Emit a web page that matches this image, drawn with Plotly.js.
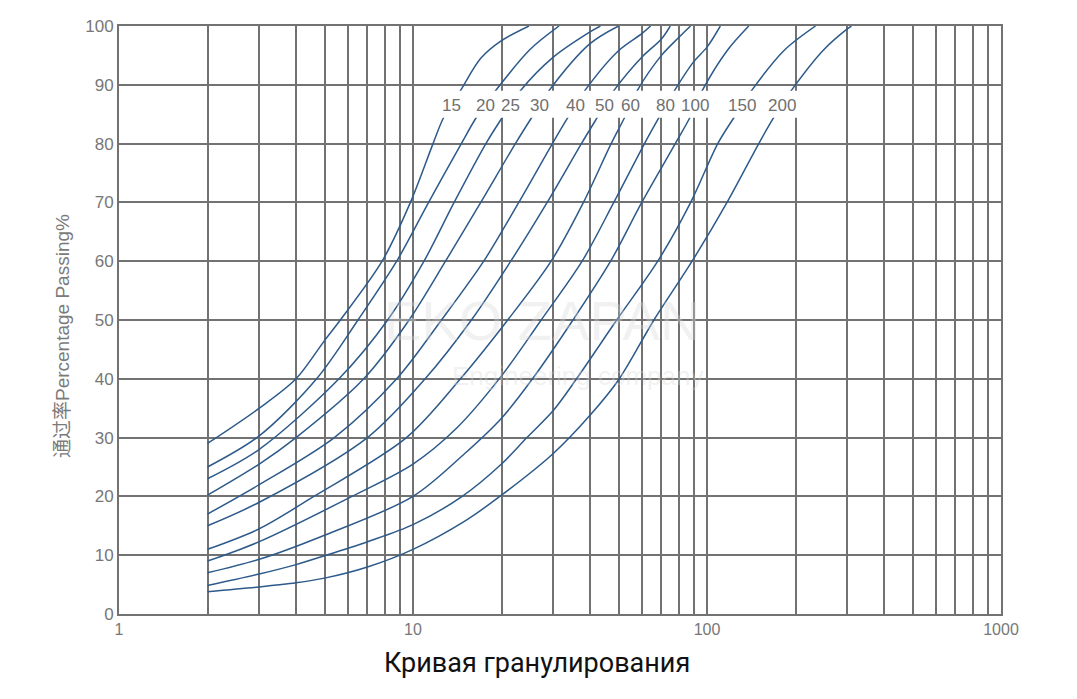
<!DOCTYPE html>
<html>
<head>
<meta charset="utf-8">
<script src="https://cdn.plot.ly/plotly-3.0.1.min.js"></script>
<style>html,body{margin:0;padding:0;background:#fff;}#chart{width:1077px;height:699px;}</style>
</head>
<body>
<div id="chart"></div>
<script>
// ---- data ----
const curveNames = ['15','20','25','30','40','50','60','80','100','150','200'];

const x15 = [2,3,4,5,5.66,7.85,9.8,11.7,12.7,14.5,17,20,24.8];
const y15 = [29,35,40,46.5,50,60,70,80,84.4,89,94.5,97.5,100];

const x20 = [2,3,4.7,6.5,8.8,11.3,14.6,16.4,19.1,25,31.4];
const y20 = [25,30.3,40,50,60,70,80,84.4,89,96,100];

const x25 = [2,3,5.6,8.2,10.9,13.8,17.7,20.1,23.2,30,40,43.4];
const y25 = [23,28,40,50,60,70,80,84.4,89,94.7,99,100];

const x30 = [2,3,4,6.8,9.7,12.9,17,22.3,25.3,29,40,50];
const y30 = [20.2,25.5,30,40,50,60,70,80,84.4,89,97,100];

const x40 = [2,3,5.4,8.8,12.5,17.4,22.9,29.8,33.6,38.4,50,60,64.3];
const y40 = [17,22,30,40,50,60,70,80,84.4,89,95.8,98.7,100];

const x50 = [2,3,7,11,15.8,21.5,28.6,37.4,42.3,48.2,60,70,75];
const y50 = [15,19,30,40,50,60,70,80,84.4,89,94.7,97.8,100];

const x60 = [2,3,4.6,9.5,14.5,21,29.5,38,47.2,52.4,57.9,70,80,87.9];
const y60 = [11,14.5,20,30,40,50,60,70,80,84.4,89,95,98,100];

const x80 = [2,3,6.2,10,14,20,27.3,37.6,48.2,61.3,68.6,77.5,90,100,111];
const y80 = [9,12.3,20,25.5,31.5,40.5,50,60,70,80,84.4,89,93.9,96.4,100];

const x100 = [2,3,5,10,15,20,25.5,35,47,60,78,87.4,96.3,117,138.7];
const y100 = [7,9.3,13.4,20,27.3,33.3,40,50,60,70,80,84.4,89,95.8,100];

const x150 = [2,3,4,5,7,10,14.7,20,24.4,30,36,49.3,68,88,108.8,123.4,141.7,182.5,234];
const y150 = [4.85,6.8,8.4,9.9,12.3,15.2,20,25.5,30,34.6,40,50,60,70,80,84.4,89,95.8,100];

const x200 = [2,3,4,5,7,10,15,20,30,40,50,66,89,117,150,168.5,193.4,250,300,310];
const y200 = [3.8,4.6,5.3,6.1,8.0,11.0,15.8,20.2,27.3,33.8,39.8,50,60,70,80,84.4,89,96,99.5,100];

const xTickVals = [1,2,3,4,5,6,7,8,9,10,20,30,40,50,60,70,80,90,100,200,300,400,500,600,700,800,900,1000];
const xTickText = ['1','','','','','','','','','10','','','','','','','','','100','','','','','','','','','1000'];
const yTickVals = [0,10,20,30,40,50,60,70,80,90,100];

const labelLevel = 86.5;          // level where the size labels sit
const bandLow = 84.4, bandHigh = 89.0;

const yTitle = '通过率Percentage Passing%';
const xTitle = 'Кривая гранулирования';
const watermark1 = 'EKO ZAPAN';
const watermark2 = 'Engineering company';

// ---- build ----
const xs = [x15,x20,x25,x30,x40,x50,x60,x80,x100,x150,x200];
const ys = [y15,y20,y25,y30,y40,y50,y60,y80,y100,y150,y200];
const lineColor = '#2d5a8a';
const gridColor = '#727272';

const traces = xs.map((xa, i) => ({
  type: 'scatter', mode: 'lines', x: xa, y: ys[i], name: curveNames[i],
  line: {color: lineColor, width: 1.5, shape: 'spline', smoothing: 0.9},
  hoverinfo: 'skip'
}));

function crossAt(xa, ya, lvl) {
  for (let k = 1; k < ya.length; k++) {
    if (ya[k] >= lvl) {
      const t = (lvl - ya[k-1]) / (ya[k] - ya[k-1]);
      return Math.log10(xa[k-1]) + t * (Math.log10(xa[k]) - Math.log10(xa[k-1]));
    }
  }
  return Math.log10(xa[xa.length-1]);
}

const labelFont = {family: 'Liberation Sans, Arial, sans-serif', size: 17, color: '#707070'};
const annotations = xs.map((xa, i) => ({
  xref: 'paper', yref: 'y', x: crossAt(xa, ys[i], labelLevel) / 3, y: labelLevel,
  text: curveNames[i], showarrow: false, font: labelFont, xanchor: 'center', yanchor: 'middle'
}));

const bandLeft = crossAt(x15, y15, bandLow) / 3 - 0.02;
const bandRight = crossAt(x200, y200, bandHigh) / 3 + 0.01;

annotations.push({
  xref: 'paper', yref: 'paper', x: -0.064, y: 0.472, text: yTitle, textangle: -90,
  showarrow: false, xanchor: 'center', yanchor: 'middle',
  font: {family: 'Liberation Sans, Noto Sans CJK SC, sans-serif', size: 19, color: '#7a7a7a'}
});
annotations.push({
  xref: 'paper', yref: 'paper', x: 0.474, y: -0.083, text: xTitle,
  showarrow: false, xanchor: 'center', yanchor: 'middle',
  font: {family: 'Roboto, Noto Sans, sans-serif', size: 27, color: '#111'}
});
annotations.push({
  xref: 'paper', yref: 'paper', x: 0.48, y: 0.50, text: watermark1,
  showarrow: false, xanchor: 'center', yanchor: 'middle',
  font: {family: 'Liberation Sans, Arial, sans-serif', size: 56, color: 'rgba(215,215,215,0.35)'}
});
annotations.push({
  xref: 'paper', yref: 'paper', x: 0.52, y: 0.405, text: watermark2,
  showarrow: false, xanchor: 'center', yanchor: 'middle',
  font: {family: 'Liberation Sans, Arial, sans-serif', size: 26, color: 'rgba(215,215,215,0.35)'}
});

const layout = {
  width: 1077, height: 699,
  margin: {l: 119, r: 76, t: 26, b: 85},
  paper_bgcolor: '#fff', plot_bgcolor: '#fff',
  showlegend: false,
  xaxis: {
    type: 'log', range: [0, 3], tickmode: 'array', tickvals: xTickVals, ticktext: xTickText,
    showgrid: true, gridcolor: gridColor, gridwidth: 2,
    showline: true, linecolor: gridColor, linewidth: 2, mirror: true,
    ticks: '', zeroline: false,
    tickfont: {family: 'Liberation Sans, Arial, sans-serif', size: 16, color: '#777'}
  },
  yaxis: {
    range: [0, 100], tickmode: 'array', tickvals: yTickVals,
    showgrid: true, gridcolor: gridColor, gridwidth: 2,
    showline: true, linecolor: gridColor, linewidth: 2, mirror: true,
    ticks: '', zeroline: false,
    tickfont: {family: 'Liberation Sans, Arial, sans-serif', size: 17, color: '#777'}
  },
  shapes: [{
    type: 'rect', xref: 'paper', yref: 'y', x0: bandLeft, x1: bandRight, y0: bandLow, y1: bandHigh,
    fillcolor: '#fff', line: {width: 0}, layer: 'above'
  }],
  annotations: annotations
};

Plotly.newPlot('chart', traces, layout, {staticPlot: true, displayModeBar: false});
</script>
</body>
</html>
